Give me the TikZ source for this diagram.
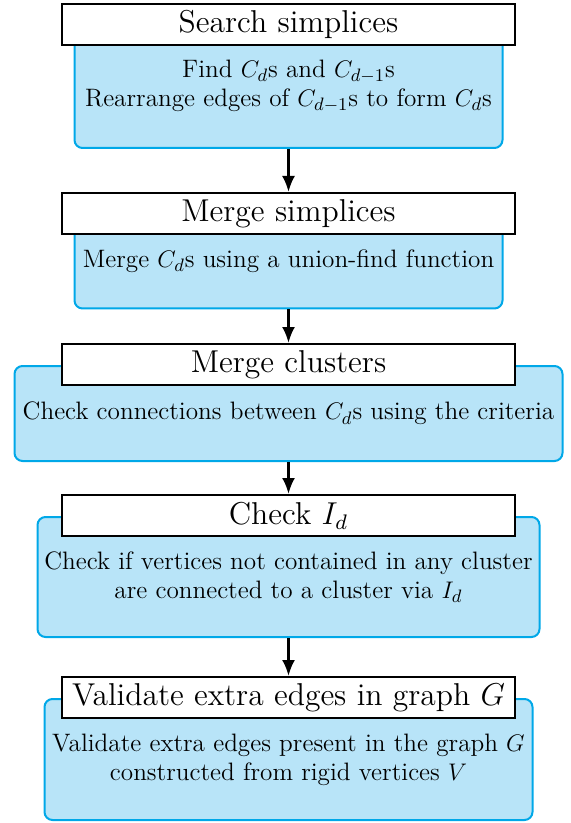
\documentclass[tikz,border=0pt]{standalone}
\usepackage{amsmath}
\usetikzlibrary{arrows.meta}

\definecolor{boxfill}{RGB}{184,228,248}
\definecolor{boxline}{RGB}{0,168,232}

\newcommand{\stagename}[1]{\scalebox{1.317}{\large #1}}

\tikzset{every picture/.style={line width=0.75pt}}
\tikzset{
  stagebody/.style={draw=boxline, fill=boxfill, line width=1pt, rounded corners=4pt, align=center, font=\fontsize{12.6}{14.5}\selectfont, inner sep=0pt},
  stagetitle/.style={draw=black, fill=white, line width=1pt, minimum width=226.5pt, minimum height=20.5pt, inner sep=0pt},
  flowarrow/.style={-{Latex[length=8pt,width=6.5pt]}, line width=1.3pt}
}

\begin{document}
\begin{tikzpicture}[x=0.5pt,y=0.5pt,yscale=-1,xscale=1]
	\useasboundingbox (0,0) rectangle (570,823);

	% Body Boxes
	\node [stagebody, minimum width=214pt, minimum height=62pt] (body1) at (288.5,86) {Find $C_d$s and $C_{d-1}$s\\Rearrange edges of $C_{d-1}$s to form $C_d$s};
	\node [stagebody, minimum width=214pt, minimum height=47.5pt] (body2) at (288.5,261) {Merge $C_d$s using a union-find function};
	\node [stagebody, minimum width=274pt, minimum height=47.5pt] (body3) at (288.5,413.5) {Check connections between $C_d$s using the criteria};
	\node [stagebody, minimum width=251pt, minimum height=60pt] (body4) at (288.5,577) {Check if vertices not contained in any cluster\\are connected to a cluster via $I_d$};
	\node [stagebody, minimum width=244pt, minimum height=60.5pt] (body5) at (288.5,759.5) {Validate extra edges present in the graph $G$\\constructed from rigid vertices $V$};

	% Title Boxes
	\node [stagetitle] (title1) at (288.5,24.5) {\stagename{Search simplices}};
	\node [stagetitle] (title2) at (288.5,213.5) {\stagename{Merge simplices}};
	\node [stagetitle] (title3) at (288.5,364.5) {\stagename{Merge clusters}};
	\node [stagetitle] (title4) at (288.5,515.5) {\stagename{Check $I_d$}};
	\node [stagetitle] (title5) at (288.5,697.5) {\stagename{Validate extra edges in graph $G$}};

	% Arrows
	\draw [flowarrow] (body1.south) -- (title2.north);
	\draw [flowarrow] (body2.south) -- (title3.north);
	\draw [flowarrow] (body3.south) -- (title4.north);
	\draw [flowarrow] (body4.south) -- (title5.north);

\end{tikzpicture}
\end{document}
